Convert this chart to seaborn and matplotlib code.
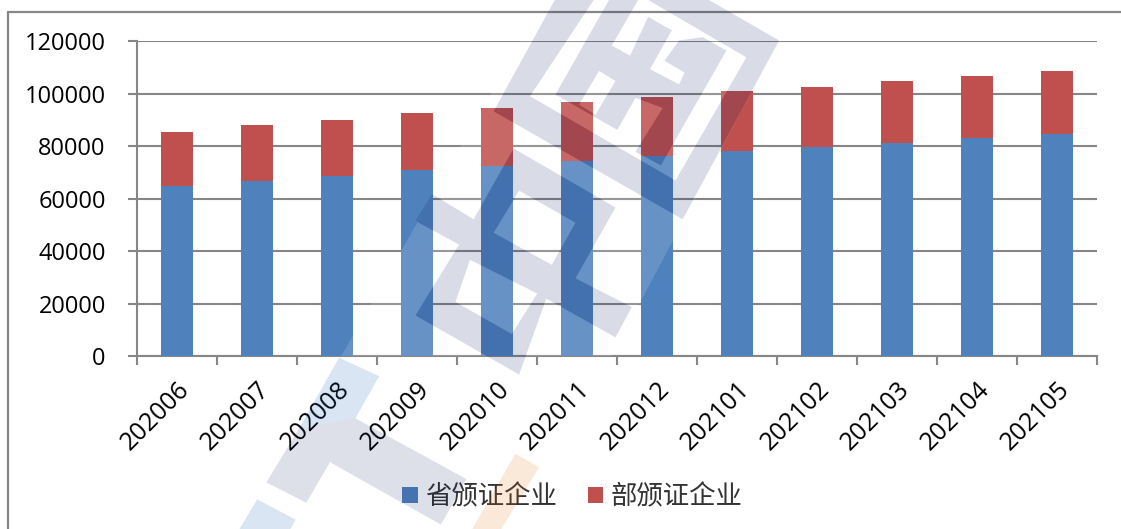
import matplotlib
matplotlib.use("Agg")
import matplotlib.pyplot as plt
import seaborn as sns
from matplotlib.lines import Line2D
from matplotlib.patches import PathPatch, Polygon
from matplotlib.path import Path

months = ["202006", "202007", "202008", "202009", "202010", "202011",
          "202012", "202101", "202102", "202103", "202104", "202105"]
prov_certs = [64880, 66900, 68700, 70860, 72620, 74280, 76190, 78320, 79730, 81360, 83170, 84570]
dept_certs = [20680, 21200, 21430, 21830, 21970, 22600, 22480, 22860, 22860, 23520, 23730, 24230]
yticks = [0, 20000, 40000, 60000, 80000, 100000, 120000]
prov_name = "省颁证企业"
dept_name = "部颁证企业"

W, H = 1121, 529
GREY = "#868686"

sns.set_theme(style="white")
plt.rcParams["font.family"] = ["Open Sans", "Noto Sans CJK SC", "DejaVu Sans"]

fig = plt.figure(figsize=(W / 100, H / 100), dpi=100)
ax = fig.add_axes([137 / W, 1 - 356.3 / H, (1097 - 137) / W, (356.3 - 41.3) / H])

sns.barplot(x=months, y=prov_certs, color="#4f81bd", saturation=1, width=0.396, label=prov_name, ax=ax, zorder=3, linewidth=0)
sns.barplot(x=months, y=dept_certs, bottom=prov_certs, color="#c0504d", saturation=1, width=0.396, label=dept_name, ax=ax, zorder=3, linewidth=0)

ax.set_xlim(-0.5, 11.5)
ax.set_ylim(0, 120000)
ax.set_yticks(yticks)
ax.set_xlabel("")
ax.set_ylabel("")
ax.yaxis.grid(True, color=GREY, lw=1.5)
ax.set_axisbelow(True)
sns.despine(ax=ax)
for side in ["left", "bottom"]:
    ax.spines[side].set_color(GREY)
    ax.spines[side].set_linewidth(1.5)

# tick marks sit between the categories, like excel does it
ax.tick_params(axis="y", which="major", left=True, length=6.5, width=1.5, color=GREY, labelsize=17, labelcolor="black", pad=16)
ax.set_xticks([i - 0.5 for i in range(len(months) + 1)], minor=True)
ax.tick_params(axis="x", which="minor", bottom=True, length=6.5, width=1.5, color=GREY)
ax.tick_params(axis="x", which="major", bottom=False, labelsize=18, labelcolor="black", pad=9)
for lab in ax.get_xticklabels():
    lab.set_rotation(45)
    lab.set_ha("right")
    lab.set_rotation_mode("anchor")

ax.legend(loc="center", bbox_to_anchor=(572.5 / W, 1 - 497 / H), bbox_transform=fig.transFigure, ncol=2,
          frameon=False, prop={"family": ["Noto Sans CJK SC"], "size": 19, "weight": "light"}, labelcolor="#333333",
          handlelength=0.57, handleheight=0.57, handletextpad=0.3, columnspacing=1.15)

# chart frame: only left and top survive in the crop
fig.add_artist(Line2D([8 / W, 8 / W], [0, 1 - 12 / H], color=GREY, lw=1.6))
fig.add_artist(Line2D([8 / W, 1], [1 - 12 / H, 1 - 12 / H], color=GREY, lw=1.6))


# watermark stamped over the chart, points are pixels of a 2.75x / 2.964x crop starting at x=230
def px(points):
    return [(230 + x / 2.75, y / 2.964) for x, y in points]


def oriented(points, ccw):
    pts = px(points)
    area = sum(pts[i][0] * pts[(i + 1) % len(pts)][1] - pts[(i + 1) % len(pts)][0] * pts[i][1] for i in range(len(pts)))
    if (area > 0) != ccw:
        pts = pts[::-1]
    return pts


def compound(solid, holes):
    verts, codes = [], []
    for pts, ccw in [(p, True) for p in solid] + [(p, False) for p in holes]:
        poly = oriented(pts, ccw)
        verts += poly + [poly[0]]
        codes += [Path.MOVETO] + [Path.LINETO] * (len(poly) - 1) + [Path.CLOSEPOLY]
    return Path(verts, codes)


ring_out = [(1510, 120), (1245, 650), (725, 330), (995, -200)]
ring_in = [(1420, 170), (1225, 535), (825, 285), (1042, -68)]
upper_glyph = [(895, 280), (1045, -5), (1125, -5), (1050, 135), (1100, 165), (1150, 50), (1215, 90), (1155, 205),
               (1235, 250), (1250, 215), (1195, 180), (1235, 120), (1300, 110), (1365, 150), (1185, 490), (1115, 450),
               (1190, 320), (1115, 290), (1065, 385)]
upper_hole = [(1015, 210), (1060, 240), (1005, 340), (960, 310)]
lower_out = [(780, 440), (1060, 615), (950, 825), (1105, 910), (1060, 1000), (870, 885), (795, 1110), (510, 935),
             (630, 725), (510, 655), (555, 575), (670, 650)]
lower_hole1 = [(795, 565), (950, 660), (885, 785), (725, 690)]
lower_hole2 = [(660, 770), (845, 870), (775, 990), (620, 895)]
t_top = [(300, 1060), (410, 1115), (345, 1240), (190, 1270)]
t_rest = [(190, 1270), (345, 1240), (650, 1420), (580, 1555), (275, 1370), (210, 1490), (100, 1430)]
corner_blue = [(75, 1480), (180, 1540), (165, 1570), (25, 1570)]
orange = [(785, 1345), (850, 1385), (745, 1570), (665, 1570)]
glow = [(800, 120), (1510, 120), (1050, 1056), (305, 1056)]

over = fig.add_axes([0, 0, 1, 1], zorder=10)
over.set_xlim(0, W)
over.set_ylim(H, 0)
over.axis("off")

# paler zone between the strokes
glow_clip = Polygon(px(glow), closed=True, transform=over.transData)
pale = PathPatch(compound([glow, ring_in, upper_hole, lower_hole1, lower_hole2],
                          [ring_out, upper_glyph, lower_out]),
                 facecolor="white", edgecolor="none", alpha=0.14)
over.add_patch(pale)
pale.set_clip_path(glow_clip)

ink = "#02165a"
over.add_patch(PathPatch(compound([ring_out], [ring_in]), facecolor=ink, edgecolor="none", alpha=0.15))
over.add_patch(PathPatch(compound([upper_glyph], [upper_hole]), facecolor=ink, edgecolor="none", alpha=0.15))
over.add_patch(PathPatch(compound([lower_out], [lower_hole1, lower_hole2]), facecolor=ink, edgecolor="none", alpha=0.15))
over.add_patch(Polygon(px(t_rest), closed=True, facecolor=ink, edgecolor="none", alpha=0.13))
over.add_patch(Polygon(px(t_top), closed=True, facecolor="#0052a8", edgecolor="none", alpha=0.15))
over.add_patch(Polygon(px(corner_blue), closed=True, facecolor="#0052a8", edgecolor="none", alpha=0.15))
over.add_patch(Polygon(px(orange), closed=True, facecolor="#e46600", edgecolor="none", alpha=0.15))

plt.savefig("out.png", dpi=100)
plt.close(fig)
